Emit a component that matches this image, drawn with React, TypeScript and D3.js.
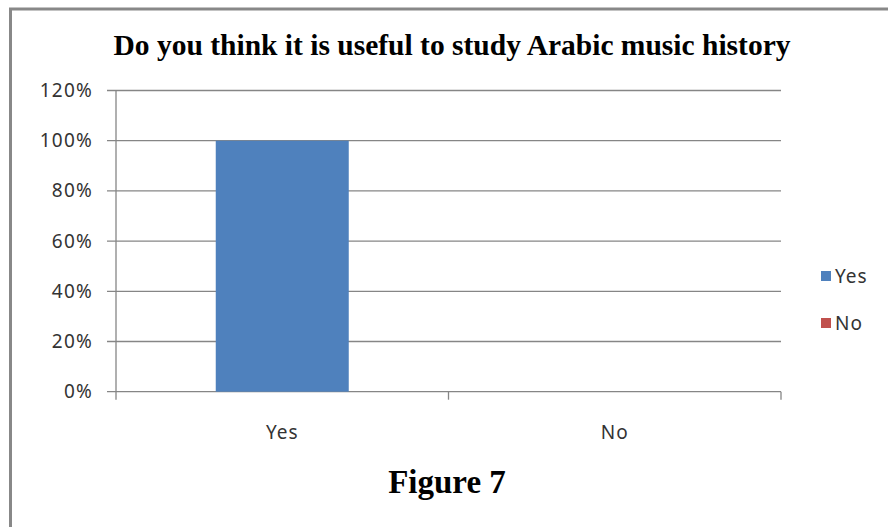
import React from "react";
import * as d3 from "d3";

// Survey answers
const categories: string[] = ["Yes", "No"];
const shares: number[] = [1.0, 0.0];
const seriesColors: string[] = ["#4f81bd", "#c0504d"];
const yTicks: number[] = [0, 0.2, 0.4, 0.6, 0.8, 1.0, 1.2];

const title = "Do you think it is useful to study Arabic music history";
const caption = "Figure 7";

const W = 888;
const H = 527;
const plot = { left: 116, right: 781, top: 90.5, bottom: 391.7 };

export default function App() {
  const x = d3
    .scaleBand<string>()
    .domain(categories)
    .range([plot.left, plot.right])
    .paddingInner(0.6)
    .paddingOuter(0.3);
  const xCat = d3.scaleBand<string>().domain(categories).range([plot.left, plot.right]);
  const y = d3.scaleLinear().domain([0, 1.2]).range([plot.bottom, plot.top]);
  const fmt = d3.format(".0%");
  const labelFont = "'Noto Sans', 'Open Sans', sans-serif";
  const catEdges = [plot.left, ...categories.map((c) => (xCat(c) ?? 0) + xCat.bandwidth())];

  return (
    <svg
      width={W}
      height={H}
      style={{ position: "absolute", left: 0, top: 0, background: "#fff" }}
    >
      <rect x={0} y={0} width={W} height={H} fill="#fff" />
      {/* frame */}
      <line x1={9} x2={W} y1={9} y2={9} stroke="#888" strokeWidth={3} />
      <line x1={10.5} x2={10.5} y1={8} y2={H} stroke="#888" strokeWidth={3} />

      <text
        x={452}
        y={55}
        textAnchor="middle"
        fontFamily="'Liberation Serif', 'Times New Roman', serif"
        fontWeight="bold"
        fontSize={29.5}
        fill="#000"
      >
        {title}
      </text>

      {/* gridlines and y labels */}
      {yTicks.map((t) => (
        <g key={t}>
          <line
            x1={plot.left - 9}
            x2={plot.right}
            y1={y(t)}
            y2={y(t)}
            stroke="#868686"
            strokeWidth={1.3}
          />
          <text
            x={93}
            y={y(t) + 6.5}
            textAnchor="end"
            fontFamily={labelFont}
            fontSize={19}
            letterSpacing={1.2}
            fill="#333"
          >
            {fmt(t)}
          </text>
        </g>
      ))}

      {/* y axis */}
      <line x1={plot.left} x2={plot.left} y1={plot.top} y2={plot.bottom + 8} stroke="#868686" strokeWidth={1.3} />
      {catEdges.slice(1).map((e, i) => (
        <line key={i} x1={e} x2={e} y1={plot.bottom} y2={plot.bottom + 8} stroke="#868686" strokeWidth={1.3} />
      ))}

      {/* bars */}
      {categories.map((c, i) => (
        <rect
          key={c}
          x={x(c)}
          y={y(shares[i])}
          width={x.bandwidth()}
          height={plot.bottom - y(shares[i])}
          fill={seriesColors[i]}
        />
      ))}

      {/* category labels */}
      {categories.map((c) => (
        <text
          key={c}
          x={(xCat(c) ?? 0) + xCat.bandwidth() / 2}
          y={439}
          textAnchor="middle"
          fontFamily={labelFont}
          fontSize={19}
          letterSpacing={1}
          fill="#333"
        >
          {c}
        </text>
      ))}

      {/* legend */}
      {categories.map((c, i) => (
        <g key={c} transform={`translate(821, ${271 + i * 47})`}>
          <rect x={0} y={0} width={10} height={10} fill={seriesColors[i]} />
          <text
            x={14}
            y={12}
            fontFamily={labelFont}
            fontSize={19}
            letterSpacing={1}
            fill="#333"
          >
            {c}
          </text>
        </g>
      ))}

      <text
        x={447}
        y={493}
        textAnchor="middle"
        fontFamily="'Liberation Serif', 'Times New Roman', serif"
        fontWeight="bold"
        fontSize={33}
        fill="#000"
      >
        {caption}
      </text>
    </svg>
  );
}
